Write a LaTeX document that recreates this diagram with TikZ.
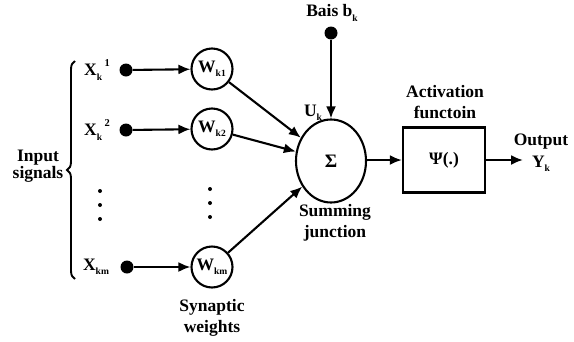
\documentclass[tikz,border=0pt]{standalone}
\usepackage{fontspec}
\setmainfont{Liberation Serif}
\usetikzlibrary{arrows.meta,shapes.geometric,decorations.pathreplacing}
\newcommand{\subs}[1]{\raisebox{-0.25em}{\fontsize{9.5}{9.5}\selectfont #1}}
\newcommand{\sups}[1]{\raisebox{0.5em}{\fontsize{10.5}{10.5}\selectfont #1}}
\begin{document}
\begin{tikzpicture}[x=1pt,y=-1pt,
  every node/.style={font=\fontsize{17.5}{20.5}\selectfont\bfseries},
  lbl/.style={inner sep=0pt,align=center},
  wcirc/.style={draw,circle,line width=2.1pt,minimum size=41pt,inner sep=0pt},
  sumnode/.style={draw,ellipse,line width=2.1pt,minimum width=70pt,minimum height=83pt,inner sep=0pt},
  actbox/.style={draw,rectangle,line width=2.3pt,minimum width=82pt,minimum height=65pt,inner sep=0pt},
  indot/.style={circle,fill=black,minimum size=13pt,inner sep=0pt},
  smalldot/.style={circle,fill=black,minimum size=4pt,inner sep=0pt},
  conn/.style={line width=2.1pt,-{Latex[length=12pt,width=10pt]}},
]
\useasboundingbox (0,0) rectangle (574,341);
% input labels
\node[lbl] (x1) at (97,70) {X\subs{k}\hspace{2.5pt}\sups{1}};
\node[lbl] (x2) at (97,130) {X\subs{k}\hspace{2.5pt}\sups{2}};
\node[lbl] (xm) at (96,267) {X\subs{km}};
% input dots
\node[indot] (d1) at (126,70) {};
\node[indot] (d2) at (126,130) {};
\node[indot] (dm) at (127,267) {};
% weights
\node[wcirc] (w1) at (212,69) {W\subs{k1}};
\node[wcirc] (w2) at (212,129) {W\subs{k2}};
\node[wcirc] (wm) at (212,267) {W\subs{km}};
% sum
\node[sumnode,font=\fontsize{19}{19}\selectfont\bfseries] (sum) at (331,161) {Σ};
% activation
\node[actbox] (act) at (444,160) {Ψ(.)};
% bias
\node[indot] (bd) at (331,33) {};
\node[lbl] (bias) at (332,13) {Bais b\subs{k}};
\node[lbl] (uk) at (313,113) {U\subs{k}};
% coordinate for output
\coordinate (outend) at (523,160);
% labels
\node[lbl] (outlbl) at (541,153) {Output\\[1pt]Y\subs{k}};
\node[lbl] (actlbl) at (445,102) {Activation\\functoin};
\node[lbl] (sumlbl) at (335,223) {Summing\\junction};
\node[lbl] (synlbl) at (212,318) {Synaptic\\weights};
\node[lbl,font=\fontsize{17.5}{15.5}\selectfont\bfseries] (inlbl) at (38,166) {Input\\signals};
% vertical dots
\node[smalldot] (ld1) at (100,191) {};
\node[smalldot] (ld2) at (100,205) {};
\node[smalldot] (ld3) at (100,219) {};
\node[smalldot] (md1) at (210,189) {};
\node[smalldot] (md2) at (210,203) {};
\node[smalldot] (md3) at (210,217) {};
% brace
\coordinate (bb) at (75,279);
\coordinate (bt) at (75,61);
\draw[line width=1.9pt,decorate,decoration={brace,amplitude=8pt}] (bb) -- (bt);
% connectors
\draw[conn] (d1) -- (w1);
\draw[conn] (d2) -- (w2);
\draw[conn] (dm) -- (wm);
\draw[conn] (w1) -- (sum);
\draw[conn] (w2) -- (sum);
\draw[conn] (wm) -- (sum);
\draw[conn] (bd) -- (sum.north);
\draw[conn] (sum.east |- act.west) -- (act.west);
\draw[conn] (act.east) -- (outend);
\end{tikzpicture}
\end{document}
